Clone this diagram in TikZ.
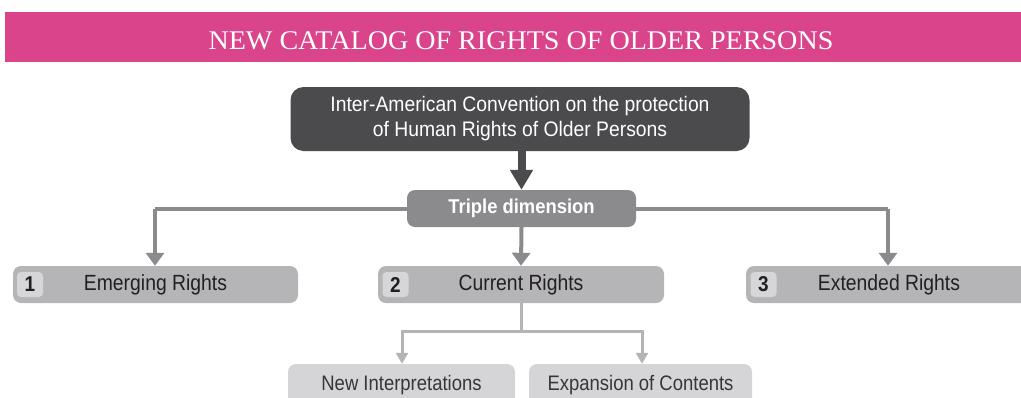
\documentclass[tikz,border=0pt]{standalone}
\usepackage{fontspec}
\setmainfont{Liberation Sans}[FakeStretch=0.92]
\newfontfamily\rowfont{Liberation Sans}[FakeStretch=0.88]
\newfontfamily\titlefont{Liberation Serif}[FakeStretch=1.04]
\usetikzlibrary{arrows.meta}
\definecolor{pinkbar}{HTML}{D9448A}
\definecolor{darkbox}{HTML}{4B4B4D}
\definecolor{midgray}{HTML}{8B8B8E}
\definecolor{rowgray}{HTML}{B5B5B7}
\definecolor{numgray}{HTML}{D6D6D8}
\definecolor{lightbox}{HTML}{D5D5D7}
\definecolor{lightline}{HTML}{B4B4B6}
\definecolor{txtdark}{HTML}{231F20}
\tikzset{
  rowbox/.style={fill=rowgray, rounded corners=8pt, minimum height=37pt, inner sep=0pt, font=\rowfont\fontsize{22}{26}\selectfont, text=txtdark},
  numbox/.style={fill=numgray, rounded corners=4pt, minimum width=26pt, minimum height=25pt, inner sep=0pt, font=\rowfont\bfseries\fontsize{21.5}{24}\selectfont, text=txtdark},
  subbox/.style={fill=lightbox, rounded corners=8pt, minimum height=42pt, inner sep=0pt, font=\rowfont\fontsize{21}{25}\selectfont, text=txtdark!90},
  garrow/.style={draw=midgray, line width=4pt, -{Triangle[width=18pt,length=13pt]}},
  larrow/.style={draw=lightline, line width=3pt, -{Triangle[width=12pt,length=11pt]}},
}
\begin{document}
\begin{tikzpicture}[x=1pt,y=-1pt]
\useasboundingbox (0,0) rectangle (1021,397);
% banner
\node[fill=pinkbar, minimum width=1030pt, minimum height=50pt, inner sep=0pt, anchor=north west] (banner) at (5,12) {};
\node[text=white, font=\titlefont\fontsize{27}{30}\selectfont, anchor=base] (title) at (521,49) {NEW CATALOG OF RIGHTS OF OLDER PERSONS};
% main box
\node[fill=darkbox, rounded corners=13pt, minimum width=459pt, minimum height=64pt, inner sep=0pt, text=white, align=center, font=\fontsize{21}{25}\selectfont] (conv) at (520,119) {Inter-American Convention on the protection\\of Human Rights of Older Persons};
\node[fill=midgray, rounded corners=8pt, minimum width=229pt, minimum height=37pt, inner sep=0pt, text=white, font=\bfseries\fontsize{20}{24}\selectfont] (tri) at (521.5,208.5) {Triple dimension};
\draw[draw=darkbox, line width=8pt, -{Triangle[width=22pt,length=20pt]}] (conv.south -| tri.north) -- (tri.north);
% row boxes
\node[rowbox, minimum width=285pt] (r1) at (155.5,284.5) {Emerging Rights};
\node[rowbox, minimum width=286pt] (r2) at (521,284.5) {Current Rights};
\node[rowbox, minimum width=286pt] (r3) at (889,284.5) {Extended Rights};
\node[numbox] (n1) at (30,284.5) {1};
\node[numbox] (n2) at (395.5,284.5) {2};
\node[numbox] (n3) at (763.5,284.5) {3};
% connectors
\coordinate (hl) at (155,209);
\coordinate (hr) at (888,209);
\draw[draw=midgray, line width=4pt] (tri.west |- hl) -- (hl);
\draw[garrow] (hl) -- (hl |- r1.north);
\draw[draw=midgray, line width=4pt] (tri.east |- hr) -- (hr);
\draw[garrow] (hr) -- (hr |- r3.north);
\draw[garrow] (tri.south) -- (r2.north);
% sub boxes
\node[subbox, minimum width=227pt] (b1) at (401.5,385) {New Interpretations};
\node[subbox, minimum width=223pt] (b2) at (640.5,385) {Expansion of Contents};
\coordinate (j) at (521,331);
\draw[draw=lightline, line width=3pt] (r2.south) -- (j);
\draw[larrow] (j) -| ([xshift=0.5pt]b1.north);
\draw[larrow] (j) -| ([xshift=1.5pt]b2.north);
\end{tikzpicture}
\end{document}
